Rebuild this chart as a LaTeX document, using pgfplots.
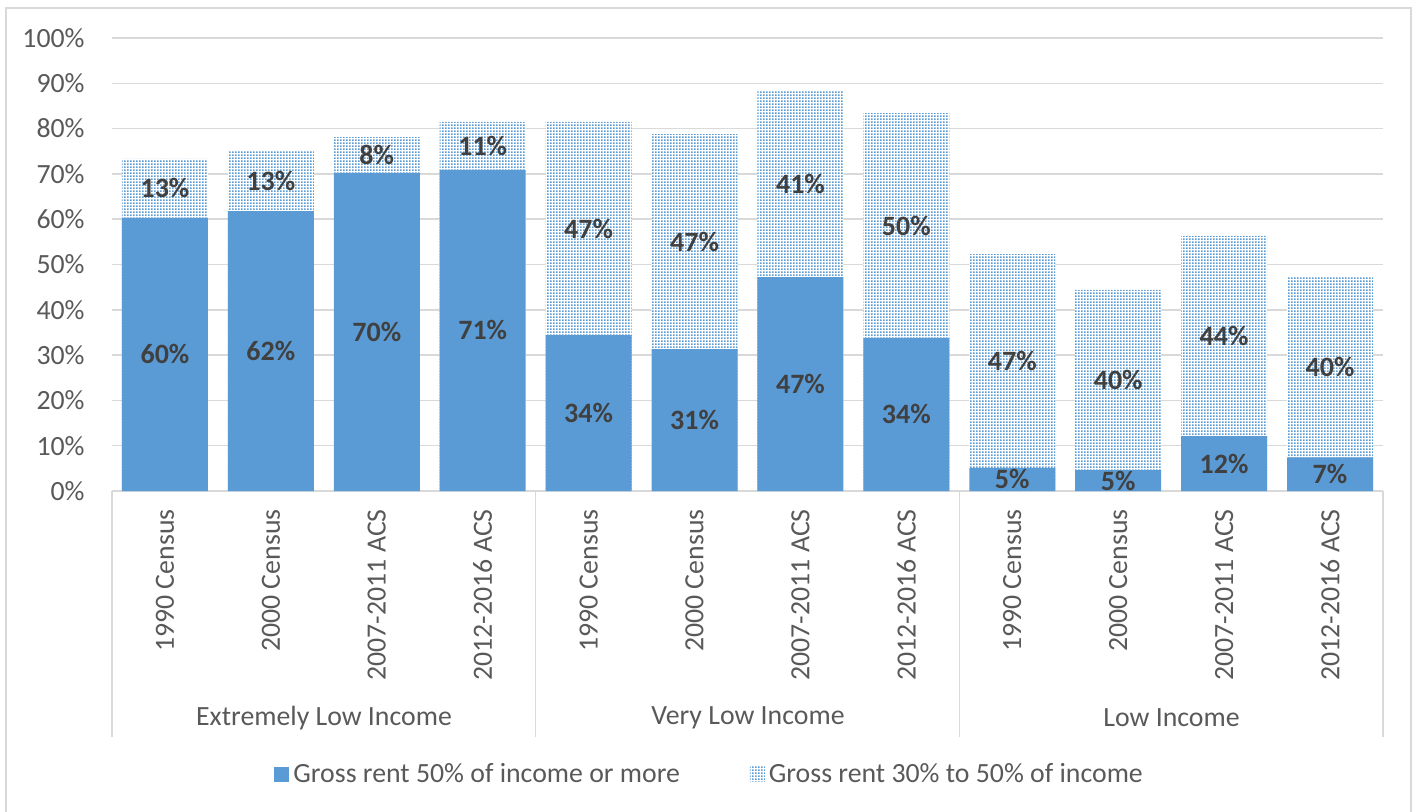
\documentclass[border=0pt]{standalone}
\usepackage{fontspec}
\setmainfont{Carlito}
\usepackage{pgfplots}
\pgfplotsset{compat=1.18}
\usepackage{pgfplotstable}
\usetikzlibrary{patterns.meta}
\definecolor{barblue}{HTML}{5B9BD5}
\definecolor{gridgray}{HTML}{D9D9D9}
\definecolor{ticktext}{HTML}{595959}
\definecolor{labeltext}{HTML}{404040}
\tikzdeclarepattern{
  name=fdots,
  type=uncolored,
  bottom left={(0pt,0pt)},
  top right={(1.65pt,1.65pt)},
  tile size={(1.65pt,1.65pt)},
  code={\pgfpathrectangle{\pgfpointorigin}{\pgfqpoint{1pt}{1pt}}\pgfusepath{fill}}
}
\pgfplotstableread{
x solid top ls lt
0 60.3 13.0 60 13
1 61.8 13.2 62 13
2 70.2 7.9 70 8
3 70.9 10.6 71 11
4 34.4 47.1 34 47
5 31.3 47.5 31 47
6 47.2 41.3 47 41
7 33.8 49.6 34 50
8 5.1 47.2 5 47
9 4.6 39.8 5 40
10 12.1 44.2 12 44
11 7.4 40.0 7 40
}\datatable
\begin{document}
\begin{tikzpicture}[font=\fontsize{13.9}{16.5}\selectfont]
\useasboundingbox (0pt,0pt) rectangle (707.5pt,-406pt);
\draw[gridgray, line width=1pt] (3pt,-4pt) rectangle (705.5pt,-420pt);
\begin{axis}[
  scale only axis,
  width=635.5pt, height=226.5pt,
  anchor=south west, at={(56pt,-245.5pt)},
  xmin=-0.5, xmax=11.5, ymin=0, ymax=100,
  clip=false,
  axis x line*=bottom,
  axis y line*=left,
  x axis line style={gridgray, line width=0.75pt, -},
  y axis line style={draw=none},
  major tick length=0pt,
  ytick={0,10,...,100},
  yticklabels={0\%,10\%,20\%,30\%,40\%,50\%,60\%,70\%,80\%,90\%,100\%},
  yticklabel style={inner sep=0pt, xshift=-13.5pt, text=ticktext},
  ymajorgrids,
  grid style={gridgray, line width=0.75pt},
  xtick={0,...,11},
  xticklabels={1990 Census,2000 Census,2007-2011 ACS,2012-2016 ACS,1990 Census,2000 Census,2007-2011 ACS,2012-2016 ACS,1990 Census,2000 Census,2007-2011 ACS,2012-2016 ACS},
  xticklabel style={rotate=90, anchor=east, inner sep=0pt, text=ticktext},
  xticklabel shift=9pt,
  legend columns=2,
  reverse legend,
  legend style={at={(0.471,-0.625)}, anchor=center, draw=none, fill=none,
    text=ticktext, inner sep=0pt,
    /tikz/every even column/.append style={column sep=33pt}},
  legend cell align=left,
  legend image code/.code={\path[#1] (0pt,-3.75pt) rectangle (7.5pt,3.75pt);},
]
\addplot[ybar, bar width=43pt, bar shift=0pt, draw=none, fill=white,
  postaction={pattern=fdots, pattern color=barblue}]
  table[x=x, y expr=\thisrow{solid}+\thisrow{top}] {\datatable};
\addlegendentry{Gross rent 30\% to 50\% of income}
\addplot[ybar, bar width=43pt, bar shift=0pt, draw=none, fill=barblue]
  table[x=x, y=solid] {\datatable};
\addlegendentry{Gross rent 50\% of income or more}
\addplot[draw=none, mark=none, forget plot, nodes near coords={\pgfplotspointmeta\%},
  point meta=explicit symbolic,
  every node near coord/.append style={anchor=center, font=\fontsize{14}{16.5}\selectfont\bfseries, text=labeltext}]
  table[x=x, y expr=\thisrow{solid}/2, meta=ls] {\datatable};
\addplot[draw=none, mark=none, forget plot, nodes near coords={\pgfplotspointmeta\%},
  point meta=explicit symbolic,
  every node near coord/.append style={anchor=center, font=\fontsize{14}{16.5}\selectfont\bfseries, text=labeltext}]
  table[x=x, y expr=\thisrow{solid}+\thisrow{top}/2, meta=lt] {\datatable};
\draw[gridgray, line width=0.75pt] (axis cs:-0.5,0) -- ++(0pt,-123pt);
\draw[gridgray, line width=0.75pt] (axis cs:3.5,0) -- ++(0pt,-123pt);
\draw[gridgray, line width=0.75pt] (axis cs:7.5,0) -- ++(0pt,-123pt);
\draw[gridgray, line width=0.75pt] (axis cs:11.5,0) -- ++(0pt,-123pt);
\end{axis}
\node[text=ticktext] at (162pt,-359pt) {Extremely Low Income};
\node[text=ticktext] at (374pt,-359pt) {Very Low Income};
\node[text=ticktext] at (585.75pt,-359pt) {Low Income};
\end{tikzpicture}
\end{document}
